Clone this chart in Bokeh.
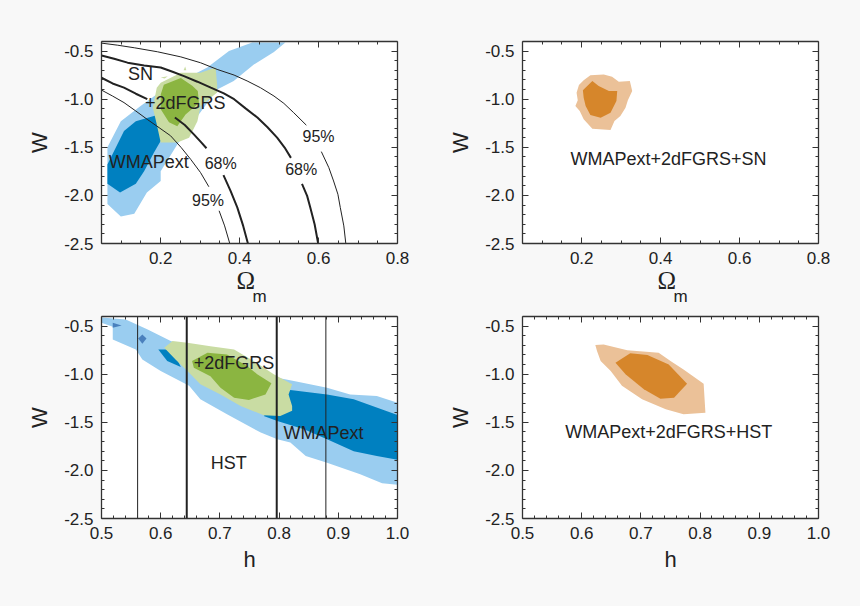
from bokeh.plotting import figure
from bokeh.layouts import column, row
from bokeh.models import LinearAxis, Range1d, FixedTicker, PrintfTickFormatter, Title
from bokeh.core.properties import value
from bokeh.embed import file_html
from bokeh.resources import INLINE

# ---- panel 1 : Omega_m vs w
om_wmap95_x = [.065,.099,.133,.165,.20,.20,.242,.284,.343,.385,.436,.487,.516,.432,.373,.318,.20,.149,.099,.065]
om_wmap95_y = [-2.09,-2.22,-2.19,-1.97,-1.85,-1.75,-1.47,-1.23,-.90,-.81,-.64,-.51,-.41,-.41,-.50,-.67,-.92,-1.07,-1.23,-1.50]
om_wmap68_x = [.065,.097,.137,.158,.183,.202,.187,.137,.107,.065]
om_wmap68_y = [-1.88,-1.97,-1.88,-1.75,-1.555,-1.42,-1.17,-1.23,-1.33,-1.68]
om_gal95_x = [.20,.251,.301,.339,.343,.343,.301,.293,.272,.242,.20,.19,.18,.19]
om_gal95_y = [-.83,-.725,-.725,-.67,-.85,-.93,-1.07,-1.23,-1.40,-1.45,-1.45,-1.26,-1.09,-.88]
om_gal68_x = [.208,.251,.28,.294,.297,.263,.242,.221,.20,.20]
om_gal68_y = [-.85,-.78,-.86,-.915,-1.04,-1.16,-1.28,-1.24,-1.105,-.95]
om_speck1_x = [.258,.262,.265]
om_speck1_y = [-.70,-.66,-.70]
om_speck2_x = [.20,.218,.21]
om_speck2_y = [-.775,-.76,-.785]

sn95r_a_x = [.05,.09,.133,.192,.251,.301,.343,.386,.419,.453,.487,.512,.537,.569]
sn95r_a_y = [-.417,-.438,-.465,-.507,-.56,-.621,-.69,-.749,-.81,-.881,-.967,-1.043,-1.14,-1.27]
sn95r_b_x = [.607,.626,.638,.649,.655,.664,.669]
sn95r_b_y = [-1.545,-1.711,-1.85,-1.988,-2.125,-2.317,-2.5]
sn68r_a_x = [.05,.082,.116,.158,.20,.23,.259,.293,.327,.36,.386,.415,.445,.47,.495,.514,.53]
sn68r_a_y = [-.545,-.58,-.62,-.649,-.67,-.715,-.76,-.818,-.88,-.939,-1.0,-1.095,-1.19,-1.289,-1.40,-1.503,-1.61]
sn68r_b_x = [.558,.571,.579,.59,.599]
sn68r_b_y = [-1.88,-2.005,-2.125,-2.30,-2.5]
sn68l_a_x = [.05,.078,.107,.137,.166]
sn68l_a_y = [-.777,-.836,-.88,-.943,-1.0]
sn68l_b_x = [.236,.261,.284,.301,.316]
sn68l_b_y = [-1.19,-1.268,-1.365,-1.441,-1.51]
sn68l_c_x = [.359,.377,.394,.409,.421]
sn68l_c_y = [-1.79,-1.953,-2.125,-2.317,-2.5]
sn95l_a_x = [.05,.078,.107,.137,.166,.196,.225,.252,.276,.301,.322]
sn95l_a_y = [-.905,-.967,-1.035,-1.123,-1.21,-1.296,-1.38,-1.503,-1.625,-1.763,-1.91]
sn95l_b_x = [.348,.362,.375]
sn95l_b_y = [-2.16,-2.317,-2.5]

# ---- panel 2 : combined with SN
sn_all95_x = [.222,.256,.277,.294,.322,.328,.317,.311,.298,.283,.273,.227,.205,.195,.184,.19,.187,.193,.205]
sn_all95_y = [-.752,-.742,-.766,-.818,-.811,-.915,-1.012,-1.088,-1.175,-1.226,-1.32,-1.306,-1.209,-1.123,-1.071,-1.012,-.932,-.853,-.804]
sn_all68_x = [.227,.243,.269,.29,.288,.273,.248,.222,.21,.205,.203]
sn_all68_y = [-.811,-.863,-.915,-.915,-1.019,-1.14,-1.192,-1.164,-1.071,-.984,-.908]

# ---- panel 3 : h vs w
h_wmap95_x = [.50,.541,.578,.617,.797,.825,.881,.92,.965,1.0,1.0,.974,.937,.881,.845,.819,.797,.769,.712,.667,.648,.60,.569,.558,.519,.519,.50]
h_wmap95_y = [-.41,-.43,-.535,-.656,-1.036,-1.07,-1.14,-1.21,-1.227,-1.296,-2.15,-2.133,-2.04,-1.92,-1.85,-1.71,-1.676,-1.607,-1.417,-1.26,-1.12,-.967,-.846,-.742,-.638,-.507,-.465]
h_wmap68_x = [.819,.881,.926,1.0,1.0,.965,.926,.881,.842,.797,.774]
h_wmap68_y = [-1.164,-1.21,-1.26,-1.424,-1.89,-1.85,-1.80,-1.676,-1.573,-1.486,-1.434]
h_spot_x = [.596,.62,.634,.611]
h_spot_y = [-.742,-.742,-.926,-.863]
h_tri_x = [.519,.534,.519]
h_tri_y = [-.465,-.493,-.517]
h_dia_x = [.569,.576,.569,.562]
h_dia_y = [-.587,-.63,-.683,-.63]
h_gal95_x = [.606,.62,.645,.684,.724,.757,.791,.822,.816,.822,.822,.802,.774,.735,.701,.667,.648,.625]
h_gal95_y = [-.725,-.656,-.673,-.708,-.742,-.863,-1.0,-1.105,-1.21,-1.33,-1.38,-1.434,-1.427,-1.33,-1.21,-1.105,-.984,-.846]
h_gal68_x = [.653,.679,.712,.746,.763,.787,.777,.749,.724,.701,.684,.656]
h_gal68_y = [-.863,-.777,-.794,-.915,-1.0,-1.095,-1.21,-1.268,-1.244,-1.14,-1.02,-.933]
hst_thin = [.561,.879]
hst_thick = [.644,.796]

# ---- panel 4 : combined with HST
hc_all95_x = [.623,.637,.677,.73,.75,.772,.806,.809,.772,.742,.702,.668,.649,.632,.626]
hc_all95_y = [-.697,-.69,-.752,-.777,-.863,-.95,-1.10,-1.40,-1.417,-1.365,-1.26,-1.12,-.967,-.863,-.76]
hc_all68_x = [.657,.682,.711,.747,.778,.756,.733,.705,.674]
hc_all68_y = [-.881,-.783,-.80,-.898,-1.10,-1.244,-1.255,-1.157,-1.00]

om_ticks = [.2,.4,.6,.8]
h_ticks = [.5,.6,.7,.8,.9,1.0]
w_ticks = [-2.5,-2.0,-1.5,-1.0,-.5]
om_minor = [.05,.1,.15,.25,.3,.35,.45,.5,.55,.65,.7,.75]
h_minor = [.52,.54,.56,.58,.62,.64,.66,.68,.72,.74,.76,.78,.82,.84,.86,.88,.92,.94,.96,.98]
w_minor = [-2.4,-2.3,-2.2,-2.1,-1.9,-1.8,-1.7,-1.6,-1.4,-1.3,-1.2,-1.1,-.9,-.8,-.7,-.6]

BG = "#f8f8f8"; AX = "#333333"; TXT = "#222222"
LB = "#9acdf0"; DB = "#0080c0"; MB = "#4a80bd"
LG = "#c9dca3"; DG = "#8bb541"
LO = "#ebc198"; DO = "#d6862b"
FONT = "Liberation Sans"


def panel(w, h, bl, br, bt, bb, xr, xt, xm, xlabel):
    p = figure(width=w, height=h, output_backend="svg", toolbar_location=None,
               x_range=Range1d(*xr), y_range=Range1d(-2.5, -.4),
               min_border_left=bl, min_border_right=br, min_border_top=bt, min_border_bottom=bb,
               background_fill_color="white", border_fill_color=BG,
               x_axis_type=None, y_axis_type=None, outline_line_color=None)
    p.grid.visible = False
    for side, ticks, minor in (("below", xt, xm), ("above", xt, xm), ("left", w_ticks, w_minor), ("right", w_ticks, w_minor)):
        ax = LinearAxis(ticker=FixedTicker(ticks=ticks, minor_ticks=minor),
                        formatter=PrintfTickFormatter(format="%.1f"))
        ax.axis_line_color = AX
        ax.axis_line_width = 1.3
        ax.major_tick_line_color = AX
        ax.minor_tick_line_color = AX
        ax.major_tick_in = 6; ax.major_tick_out = 0
        ax.minor_tick_in = 3; ax.minor_tick_out = 0
        ax.major_label_text_font = FONT
        ax.major_label_text_color = TXT
        if side in ("above", "right"):
            ax.major_label_text_font_size = "0px"
            ax.major_label_text_color = None
            ax.major_label_standoff = 0
        else:
            ax.major_label_text_font_size = "17px"
            ax.major_label_standoff = 8
        if side == "below" and xlabel:
            ax.axis_label = xlabel
            ax.axis_label_text_font_style = "normal"
            ax.axis_label_text_color = TXT
            ax.axis_label_standoff = 5
            ax.axis_label_text_font = FONT
            ax.axis_label_text_font_size = "22px"
        if side == "left":
            ax.axis_label = "W"
            ax.axis_label_text_font = FONT
            ax.axis_label_text_font_style = "normal"
            ax.axis_label_text_font_size = "22px"
            ax.axis_label_text_color = TXT
            ax.axis_label_standoff = 9
        p.add_layout(ax, side)
    return p


def note(p, x, y, s, size="18px"):
    p.text([x], [y], text=[s], text_font=value(FONT), text_font_size=size, text_color=TXT,
           text_align="center", text_baseline="middle")


def omega_label(p):
    p.add_layout(Title(text="Ω", align="left", offset=135, standoff=-4, text_font="Liberation Serif",
                       text_font_size="25px", text_font_style="normal", text_color=TXT), "below")
    p.add_layout(Title(text="m", align="left", offset=151, standoff=-29, text_font=FONT,
                       text_font_size="17px", text_font_style="normal", text_color=TXT), "below")


p1 = panel(430, 310, 101, 33, 41, 67, (.05, .8), om_ticks, om_minor, None)
p1.patch(om_wmap95_x, om_wmap95_y, fill_color=LB, line_color=None)
p1.patch(om_wmap68_x, om_wmap68_y, fill_color=DB, line_color=None)
p1.patch(om_gal95_x, om_gal95_y, fill_color=LG, line_color=None)
p1.patch(om_gal68_x, om_gal68_y, fill_color=DG, line_color=None)
p1.patch(om_speck1_x, om_speck1_y, fill_color=LG, line_color=None)
p1.patch(om_speck2_x, om_speck2_y, fill_color=LG, line_color=None)
for xs, ys in ((sn95r_a_x, sn95r_a_y), (sn95r_b_x, sn95r_b_y), (sn95l_a_x, sn95l_a_y), (sn95l_b_x, sn95l_b_y)):
    p1.line(xs, ys, line_color="#222222", line_width=1)
for xs, ys in ((sn68r_a_x, sn68r_a_y), (sn68r_b_x, sn68r_b_y), (sn68l_a_x, sn68l_a_y), (sn68l_b_x, sn68l_b_y), (sn68l_c_x, sn68l_c_y)):
    p1.line(xs, ys, line_color="#222222", line_width=2)
note(p1, .149, -.742, "SN")
note(p1, .262, -1.043, "+2dFGRS")
note(p1, .17, -1.65, "WMAPext")
note(p1, .60, -1.39, "95%", "16px")
note(p1, .556, -1.73, "68%", "16px")
note(p1, .352, -1.67, "68%", "16px")
note(p1, .32, -2.05, "95%", "16px")
omega_label(p1)

p2 = panel(422, 310, 92, 34, 41, 67, (.05, .8), om_ticks, om_minor, None)
p2.patch(sn_all95_x, sn_all95_y, fill_color=LO, line_color=None)
p2.patch(sn_all68_x, sn_all68_y, fill_color=DO, line_color=None)
note(p2, .42, -1.62, "WMAPext+2dFGRS+SN")
omega_label(p2)

p3 = panel(430, 288, 101, 33, 6, 80, (.5, 1.0), h_ticks, h_minor, "h")
p3.patch(h_wmap95_x, h_wmap95_y, fill_color=LB, line_color=None)
p3.patch(h_wmap68_x, h_wmap68_y, fill_color=DB, line_color=None)
p3.patch(h_spot_x, h_spot_y, fill_color=DB, line_color=None)
p3.patch(h_tri_x, h_tri_y, fill_color=MB, line_color=None)
p3.patch(h_dia_x, h_dia_y, fill_color=MB, line_color=None)
p3.patch(h_gal95_x, h_gal95_y, fill_color=LG, line_color=None)
p3.patch(h_gal68_x, h_gal68_y, fill_color=DG, line_color=None)
for v in hst_thin:
    p3.line([v, v], [-2.5, -.4], line_color="#222222", line_width=1)
for v in hst_thick:
    p3.line([v, v], [-2.5, -.4], line_color="#222222", line_width=2)
note(p3, .724, -.888, "+2dFGRS")
note(p3, .875, -1.607, "WMAPext")
note(p3, .715, -1.926, "HST")

p4 = panel(422, 288, 92, 34, 6, 80, (.5, 1.0), h_ticks, h_minor, "h")
p4.patch(hc_all95_x, hc_all95_y, fill_color=LO, line_color=None)
p4.patch(hc_all68_x, hc_all68_y, fill_color=DO, line_color=None)
note(p4, .747, -1.60, "WMAPext+2dFGRS+HST")

page = column(row(p1, p2, spacing=0), row(p3, p4, spacing=0), spacing=0)
html = file_html(page, INLINE).replace("<head>", "<head><style>html,body{background:#f8f8f8;margin:0}</style>", 1)
open("out.html", "w").write(html)
